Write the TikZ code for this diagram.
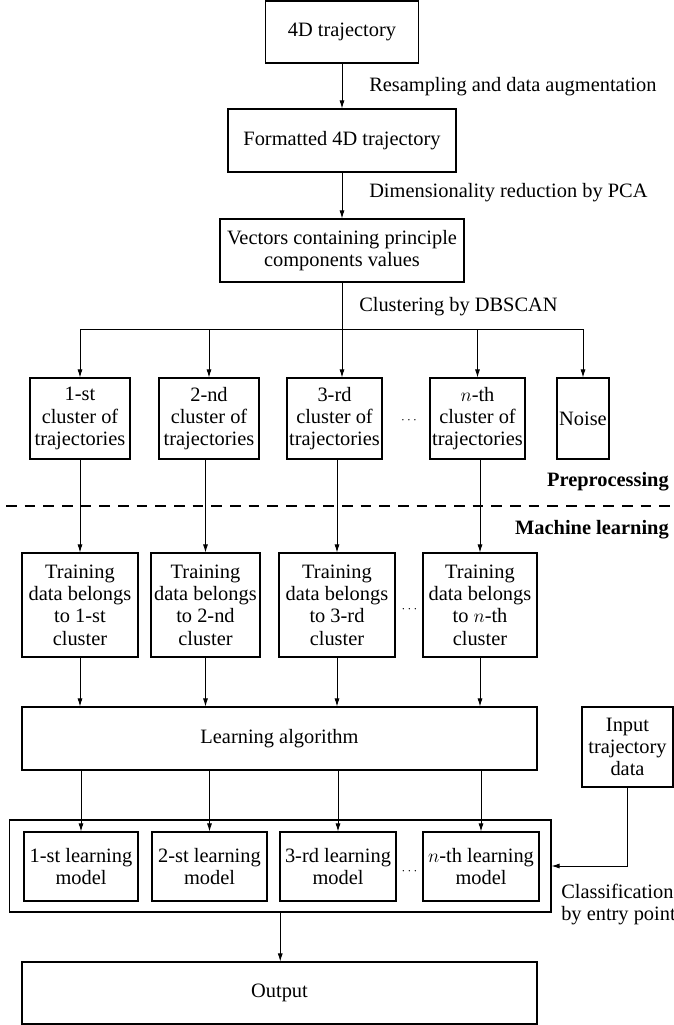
\documentclass[tikz,border=0pt]{standalone}
\usepackage{fontspec}
\setmainfont{Liberation Serif}
\usepackage{tikz}
\usetikzlibrary{arrows.meta}

\tikzset{
  box/.style={draw, line width=0.9pt, align=center, inner sep=0pt},
  bw/.style={minimum width=#1*0.75pt},
  bh/.style={minimum height=#1*0.75pt},
  link/.style={line width=0.6pt, -{Latex[length=6pt,width=3.8pt]}},
  caption/.style={inner sep=0pt, align=left},
  gap/.style={inner sep=0pt, font=\fontsize{10}{10}\selectfont},
}

\begin{document}
\begin{tikzpicture}[x=0.75pt,y=0.75pt,yscale=-1,xscale=1,font=\fontsize{15.3}{16.7}\selectfont]
\useasboundingbox (0,0) rectangle (674,1025);

% Text Node
\node (traj) [box, bw=153, bh=62] at (342,32) {4D trajectory};
% Text Node
\node (fmt) [box, bw=228, bh=63] at (342,140.5) {Formatted 4D trajectory};
% Text Node
\node (vec) [box, bw=244, bh=63] at (342,250.5) {Vectors containing principle\\components values};
% Text Node
\node (lblres) [caption, anchor=west] at (369,87) {Resampling and data augmentation};
% Text Node
\node (lblpca) [caption, anchor=west] at (369,193) {Dimensionality reduction by PCA};
% Text Node
\node (lbldb) [caption, anchor=west] at (359,307) {Clustering by DBSCAN};

\draw [link] (traj) -- (fmt);
\draw [link] (fmt) -- (vec);

% Clusters
\node (c1) [box, bw=100, bh=81] at (80,418.5) {1-st\\cluster of\\trajectories};
\node (c2) [box, bw=100, bh=81] at (209,418.5) {2-nd\\cluster of\\trajectories};
\node (c3) [box, bw=95, bh=81] at (334.5,418.5) {3-rd\\cluster of\\trajectories};
\node (cn) [box, bw=95, bh=81] at (477.5,418.5) {$n$-th\\cluster of\\trajectories};
\node (noise) [box, bw=52, bh=81] at (583,418.5) {Noise};
\node (dots1) [gap] at (409,421) {$\cdots$};

\coordinate (split) at (342,329);
\draw [line width=0.6pt] (c1.north |- split) -- (noise.north |- split);
\draw [link] (vec.south) -- (vec.south |- c3.north);
\foreach \n in {c1,c2,cn,noise}
  \draw [link] (\n.north |- split) -- (\n.north);

% Separator
\draw [line width=0.9pt, dash pattern=on 8pt off 6pt] (6,506) -- (674,506);
% Text Node
\node (pre) [caption, anchor=east] at (669,482) {\textbf{Preprocessing}};
% Text Node
\node (ml) [caption, anchor=east] at (669,530) {\textbf{Machine learning}};

% Training data
\node (t1) [box, bw=116, bh=104] at (80,605) {Training\\data belongs\\to 1-st\\cluster};
\node (t2) [box, bw=109, bh=104] at (205.5,605) {Training\\data belongs\\to 2-nd\\cluster};
\node (t3) [box, bw=116, bh=104] at (337,605) {Training\\data belongs\\to 3-rd\\cluster};
\node (tn) [box, bw=114, bh=104] at (480,605) {Training\\data belongs\\to $n$-th\\cluster};
\node (dots2) [gap] at (409.5,610) {$\cdots$};

\foreach \a/\b in {c1/t1,c2/t2,c3/t3,cn/tn}
  \draw [link] (\a.south -| \b.north) -- (\b.north);

% Learning algorithm
\node (la) [box, bw=515, bh=63] at (279.5,738.5) {Learning algorithm};
\foreach \b in {t1,t2,t3,tn}
  \draw [link] (\b.south) -- (\b.south |- la.north);

% Input
\node (input) [box, bw=91, bh=80] at (627.5,747) {Input\\trajectory\\data};

% Learning models
\node (models) [box, bw=541.5, bh=92] at (280.25,866) {};
\node (m1) [box, bw=114, bh=69] at (81,866.5) {1-st learning\\model};
\node (m2) [box, bw=115, bh=69] at (209.5,866.5) {2-st learning\\model};
\node (m3) [box, bw=116, bh=69] at (338,866.5) {3-rd learning\\model};
\node (mn) [box, bw=116, bh=69] at (481,866.5) {$n$-th learning\\model};
\node (dots3) [gap] at (409.5,872) {$\cdots$};

\foreach \b in {m1,m2,m3,mn}
  \draw [link] (la.south -| \b.north) -- (\b.north);
\draw [link] (input.south) |- (models.east);
% Text Node
\node (lblcls) [caption, anchor=west] at (561,904.5) {Classification\\by entry point};

% Output
\node (out) [box, bw=515, bh=62] at (279.5,993) {Output};
\draw [link] (models.south) -- (models.south |- out.north);

\end{tikzpicture}
\end{document}
